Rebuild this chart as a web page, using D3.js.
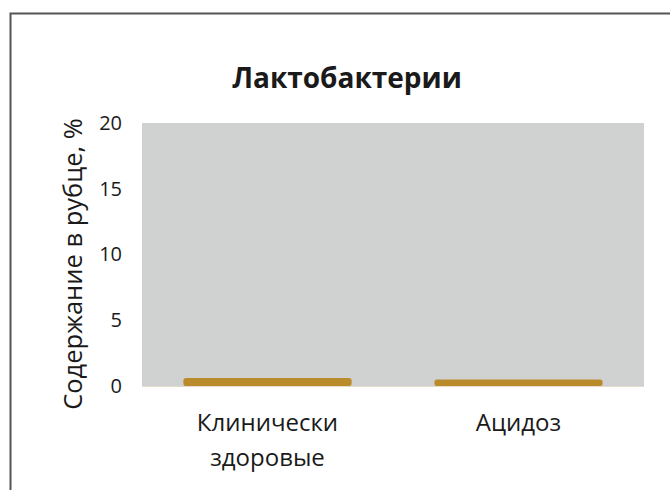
<!DOCTYPE html>
<html>
<head>
<meta charset="utf-8">
<script src="https://cdn.jsdelivr.net/npm/d3@7"></script>
<style>
  body { margin: 0; background: #fff; }
  text { font-family: "Open Sans", "Noto Sans", sans-serif; fill: #1a1a1a; }
</style>
</head>
<body>
<div id="chart"></div>
<script>
// chart data
const categories = [["Клинически", "здоровые"], ["Ацидоз"]];
const values = [0.6, 0.5];
const yTicks = [0, 5, 10, 15, 20];
const title = "Лактобактерии";
const yLabel = "Содержание в рубце, %";

const width = 670;
const height = 490;
const margin = { top: 123, right: 26, bottom: 104, left: 142 };

const svg = d3.select("#chart")
  .append("svg")
  .attr("width", width)
  .attr("height", height);

// outer frame
svg.append("rect")
  .attr("x", 10.5).attr("y", 13.5)
  .attr("width", 700).attr("height", 520)
  .attr("fill", "none")
  .attr("stroke", "#555")
  .attr("stroke-width", 2);

const x = d3.scaleBand()
  .domain(d3.range(categories.length))
  .range([margin.left, width - margin.right])
  .paddingInner(0.33)
  .paddingOuter(0.165);

const y = d3.scaleLinear()
  .domain([0, 20])
  .range([height - margin.bottom, margin.top]);

// plot background
svg.append("rect")
  .attr("x", margin.left)
  .attr("y", margin.top)
  .attr("width", width - margin.left - margin.right)
  .attr("height", y(0) - margin.top)
  .attr("fill", "#d0d1d1");

// bars
svg.selectAll(".bar")
  .data(values)
  .enter()
  .append("rect")
  .attr("class", "bar")
  .attr("x", (d, i) => x(i))
  .attr("y", d => y(d))
  .attr("width", x.bandwidth())
  .attr("height", d => y(0) - y(d))
  .attr("rx", 2.5)
  .attr("fill", "#b98b2a");

// baseline
svg.append("line")
  .attr("x1", margin.left).attr("x2", width - margin.right)
  .attr("y1", y(0) + 0.5).attr("y2", y(0) + 0.5)
  .attr("stroke", "#e4dcc8")
  .attr("stroke-width", 1);

// y axis ticks
const yAxis = svg.append("g")
  .attr("transform", `translate(${margin.left - 20},0)`)
  .call(d3.axisLeft(y).tickValues(yTicks).tickSize(0).tickPadding(0));
yAxis.select(".domain").remove();
yAxis.selectAll("text")
  .style("font-family", "'Open Sans', sans-serif")
  .style("font-size", "20px")
  .attr("fill", "#1a1a1a");

// category labels
svg.selectAll(".cat")
  .data(categories)
  .enter()
  .append("text")
  .attr("class", "cat")
  .attr("text-anchor", "middle")
  .attr("font-size", "24px")
  .each(function (d, i) {
    d3.select(this).selectAll("tspan")
      .data(d)
      .enter()
      .append("tspan")
      .attr("x", x(i) + x.bandwidth() / 2)
      .attr("y", (t, j) => 431 + j * 35)
      .text(t => t);
  });

// title
svg.append("text")
  .attr("x", 347)
  .attr("y", 88)
  .attr("text-anchor", "middle")
  .attr("font-size", "28px")
  .attr("font-weight", "bold")
  .text(title);

// y label
svg.append("text")
  .attr("transform", `translate(82,264) rotate(-90)`)
  .attr("text-anchor", "middle")
  .attr("font-size", "25.5px")
  .text(yLabel);
</script>
</body>
</html>
